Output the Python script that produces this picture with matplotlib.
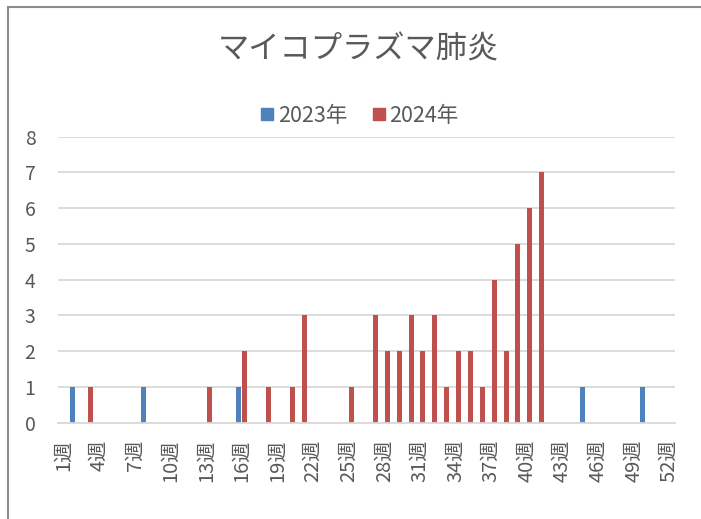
import matplotlib.pyplot as plt
import numpy as np
from matplotlib.lines import Line2D
from matplotlib.patches import Rectangle

plt.rcParams['font.family'] = ['Noto Sans CJK JP', 'DejaVu Sans']

# 週 (1〜52)
weeks = [f"{i}週" for i in range(1, 53)]

# 2023年 : 週番号 -> 件数
weeks_2023 = [2, 8, 16, 45, 50]
counts_2023 = [1, 1, 1, 1, 1]

# 2024年 : 週番号 -> 件数
weeks_2024 = [3, 13, 16, 18, 20, 21, 25,
              27, 28, 29, 30, 31, 32, 33, 34, 35, 36, 37, 38, 39, 40, 41]
counts_2024 = [1, 1, 2, 1, 1, 3, 1,
               3, 2, 2, 3, 2, 3, 1, 2, 2, 1, 4, 2, 5, 6, 7]

v2023 = np.zeros(len(weeks))
v2023[np.array(weeks_2023) - 1] = counts_2023
v2024 = np.zeros(len(weeks))
v2024[np.array(weeks_2024) - 1] = counts_2024

text_color = "#595959"
grid_color = "#d9d9d9"
blue = "#4f81bd"
red = "#c0504d"

fig = plt.figure(figsize=(7.01, 5.19), dpi=100)
ax = fig.add_axes([0.0823, 0.1855, 0.8807, 0.5511])

x = np.arange(len(weeks))
width = 0.42
ax.bar(x - 0.265, v2023, width, color=blue, label="2023年")
ax.bar(x + 0.265, v2024, width, color=red, label="2024年")

ax.set_xlim(-0.5, len(weeks) - 0.5)
ax.set_ylim(0, 8)
ax.set_yticks(range(0, 9))
ax.yaxis.grid(True, color=grid_color, linewidth=1.3)
ax.set_axisbelow(True)
for s in ["top", "right", "left"]:
    ax.spines[s].set_visible(False)
ax.spines["bottom"].set_color(grid_color)
ax.spines["bottom"].set_linewidth(1.3)

ax.set_xticks(x[::3])
ax.set_xticklabels(weeks[::3], rotation=90, fontsize=14.5, color=text_color)
ax.tick_params(axis="x", length=0, pad=12)
ax.tick_params(axis="y", length=0, pad=16, labelsize=14, labelcolor=text_color)

# タイトル
fig.text(0.511, 0.905, "マイコプラズマ肺炎", ha="center", va="center",
         fontsize=22.5, color=text_color)

# 凡例
handles = [Line2D([], [], marker="s", linestyle="none", markersize=9,
                  markerfacecolor=c, markeredgecolor=c) for c in (blue, red)]
fig.legend(handles, ["2023年", "2024年"], loc="center",
           bbox_to_anchor=(0.511, 1 - 116 / 519), ncol=2, frameon=False,
           fontsize=15.5, labelcolor=text_color, handletextpad=0.05,
           columnspacing=1.0, handlelength=0.9)

# グラフ枠
fig.add_artist(Rectangle((8 / 701, -0.1), 1.2, 1.1 - 7 / 519,
                         transform=fig.transFigure, fill=False,
                         edgecolor="#8c8c8c", linewidth=1.5))

plt.savefig("out.png", dpi=100)
